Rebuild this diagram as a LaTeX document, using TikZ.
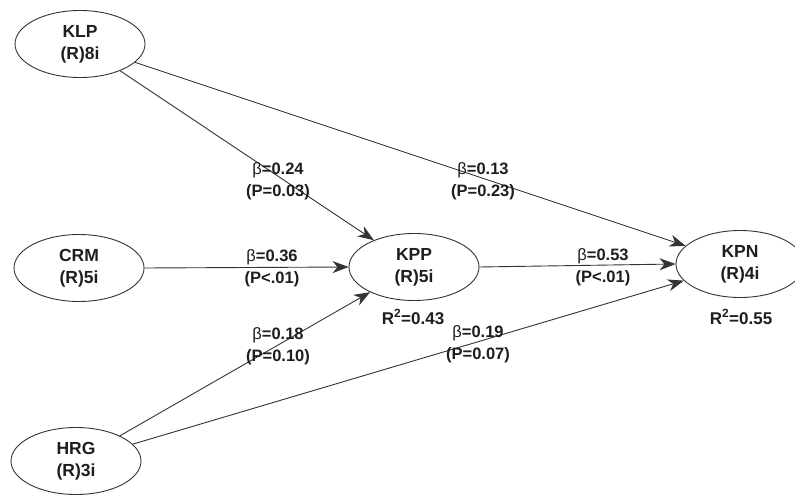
\documentclass[tikz,border=0pt]{standalone}
\usepackage{fontspec}
\setmainfont{Liberation Sans}
\usetikzlibrary{shapes.geometric,arrows.meta}
\definecolor{linec}{HTML}{333333}
\definecolor{txtc}{HTML}{1E1E1E}
\tikzset{
  lv/.style={ellipse,draw=linec,line width=0.9pt,minimum width=130pt,minimum height=67pt,inner sep=0pt,
    align=center,font=\fontsize{17.5}{22}\selectfont\bfseries,text=txtc},
  path/.style={draw=linec,line width=0.9pt,-{Stealth[length=16pt,width=12pt,inset=5pt]}},
  lab/.style={align=center,font=\fontsize{16.5}{22}\selectfont\bfseries,text=txtc,inner sep=0pt},
  rsq/.style={font=\fontsize{17}{20}\selectfont\bfseries,text=txtc,inner sep=0pt}
}
\newcommand{\bet}{{\mdseries β}}
\begin{document}
\begin{tikzpicture}[x=1pt,y=-1pt]
\useasboundingbox[fill=white] (0,0) rectangle (795,495);
\node[lv] (KLP) at (80,44) {KLP\\(R)8i};
\node[lv] (CRM) at (79,268) {CRM\\(R)5i};
\node[lv] (KPP) at (414,267) {KPP\\(R)5i};
\node[lv,minimum width=128pt] (KPN) at (740,264) {KPN\\(R)4i};
\node[lv] (HRG) at (76,461) {HRG\\(R)3i};

\draw[path] (KLP) -- (KPN);
\draw[path] (KLP) -- (KPP);
\draw[path] (CRM.east) -- (KPP.west);
\draw[path] (KPP.east) -- (KPN.west);
\draw[path] (HRG) -- (KPP);
\draw[path] (HRG) -- (KPN);

\node[lab] (l1) at (278,181) {\bet=0.24\\(P=0.03)};
\node[lab] (l2) at (483,181) {\bet=0.13\\(P=0.23)};
\node[lab] (l3) at (272,268) {\bet=0.36\\(P<.01)};
\node[lab] (l4) at (603,267) {\bet=0.53\\(P<.01)};
\node[lab] (l5) at (278,346) {\bet=0.18\\(P=0.10)};
\node[lab] (l6) at (478,344) {\bet=0.19\\(P=0.07)};
\node[rsq] (r1) at (413,317) {R$^{\mathbf{2}}$=0.43};
\node[rsq] (r2) at (741,317) {R$^{\mathbf{2}}$=0.55};
\end{tikzpicture}
\end{document}
